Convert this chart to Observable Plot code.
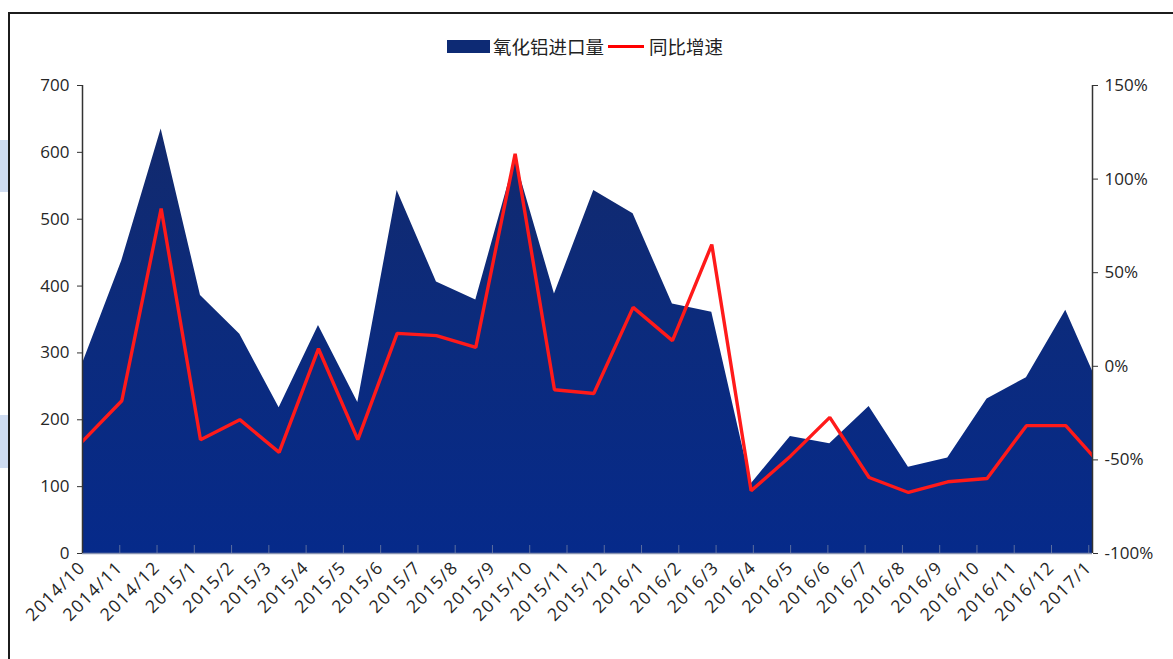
<!DOCTYPE html>
<html><head><meta charset="utf-8">
<script src="https://cdn.jsdelivr.net/npm/d3@7"></script>
<script src="https://cdn.jsdelivr.net/npm/@observablehq/plot@0.6"></script>
<style>
html,body{margin:0;padding:0;background:#fff}
body{width:1173px;height:659px;overflow:hidden;position:relative;font-family:"Open Sans","Noto Sans CJK SC",sans-serif}
#frame{position:absolute;left:8px;top:12px;width:1300px;height:800px;border:2px solid #1c1c1c;box-sizing:border-box}
.patch{position:absolute;left:0;width:8px;background:#cfdcf1}
#legend{position:absolute;top:33px;left:447px;display:flex;align-items:center;font-family:"Noto Sans CJK SC",sans-serif;font-size:18.5px;color:#222;white-space:nowrap}
#legend .sw{display:inline-block;width:43px;height:13px;background:#0d2a74;margin-right:3px}
#legend .ln{display:inline-block;width:36px;height:3px;background:#ff0000;margin:0 5px 0 4px}
#chart{position:absolute;left:0;top:0}
</style></head><body>
<div class="patch" style="top:140px;height:52px"></div>
<div class="patch" style="top:415px;height:53px"></div>
<div id="frame"></div>
<div id="chart"></div>
<div id="legend"><span class="sw"></span><span>氧化铝进口量</span><span class="ln"></span><span>同比增速</span></div>
<script>
// Tick labels (categories on the x axis)
const months = ["2014/10","2014/11","2014/12","2015/1","2015/2","2015/3","2015/4","2015/5","2015/6","2015/7","2015/8","2015/9","2015/10","2015/11","2015/12","2016/1","2016/2","2016/3","2016/4","2016/5","2016/6","2016/7","2016/8","2016/9","2016/10","2016/11","2016/12","2017/1"];
// 氧化铝进口量 (left axis)
const importVolume = [284, 438, 635, 386, 328, 218, 341, 226, 543, 406, 379, 590, 388, 543, 508, 373, 361, 104, 175, 164, 220, 129, 143, 231, 263, 364, 230];
// 同比增速 % (right axis)
const yoyGrowth = [-40.1, -18.4, 84.3, -39.2, -28.5, -46.0, 9.4, -39.2, 17.6, 16.4, 10.1, 113.5, -12.5, -14.5, 31.5, 13.7, 65.0, -66.5, -48.0, -27.3, -59.4, -67.4, -61.7, -59.9, -31.7, -31.7, -55.2];
const leftTicks = [0, 100, 200, 300, 400, 500, 600, 700];
const rightTicks = [-100, -50, 0, 50, 100, 150];

// right axis (-100%..150%) mapped onto left scale (0..700)
const toLeft = p => (p + 100) * 700 / 250;
const xMax = 25.68;          // visible extent of the data index
const tickStep = 0.9476;     // category tick spacing in index units
const tickPos = months.map((m, k) => k * tickStep);

const vol = importVolume.map((v, i) => ({i, v}));
const yoy = yoyGrowth.map((v, i) => ({i, v}));

const axisFont = 17;
const plot = Plot.plot({
  width: 1173,
  height: 659,
  marginLeft: 82,
  marginRight: 81,
  marginTop: 85,
  marginBottom: 106,
  style: {fontFamily: '"Open Sans", "Noto Sans CJK SC", sans-serif', color: "#262626", background: "transparent"},
  x: {type: "linear", domain: [0, xMax], axis: null},
  y: {domain: [0, 700], axis: null},
  marks: [
    Plot.areaY(vol, {x: "i", y: "v", fill: "url(#areaGrad)", clip: true}),
    Plot.ruleX(tickPos, {y1: 0, y2: 12, stroke: "#5b6d9e", strokeWidth: 1}),
    Plot.ruleY([0], {stroke: "#8792b0", strokeWidth: 1.5}),
    Plot.lineY(yoy, {x: "i", y: d => toLeft(d.v), stroke: "#ff1a1a", strokeWidth: 3.4, strokeLinejoin: "miter", clip: true}),
    Plot.ruleX([0], {stroke: "#333", strokeWidth: 1.5}),
    Plot.ruleX([xMax], {stroke: "#333", strokeWidth: 1.5}),
    Plot.axisY(leftTicks, {anchor: "left", tickSize: 5, tickPadding: 8, fontSize: axisFont, stroke: "#333", fill: "#262626", label: null}),
    Plot.axisY(rightTicks.map(toLeft), {anchor: "right", tickSize: 5, tickPadding: 7, fontSize: axisFont, stroke: "#333", fill: "#262626", label: null,
      tickFormat: v => `${Math.round(v * 250 / 700 - 100)}%`}),
    Plot.axisX(tickPos, {anchor: "bottom", tickSize: 0, tickPadding: 11, tickRotate: -45, fontSize: 17.5, fill: "#262626", label: null,
      tickFormat: (d, k) => months[k]})
  ]
});
d3.select(plot).insert("defs", ":first-child").html(
  `<linearGradient id="areaGrad" gradientUnits="userSpaceOnUse" x1="0" y1="85" x2="0" y2="553">
     <stop offset="0" stop-color="#13296a"/>
     <stop offset="0.5" stop-color="#0c2b7c"/>
     <stop offset="1" stop-color="#062a8a"/>
   </linearGradient>`);
d3.select(plot).selectAll("g[aria-label='x-axis tick label'] text").style("letter-spacing", "1.3px");
document.getElementById("chart").appendChild(plot);
</script>
</body></html>
